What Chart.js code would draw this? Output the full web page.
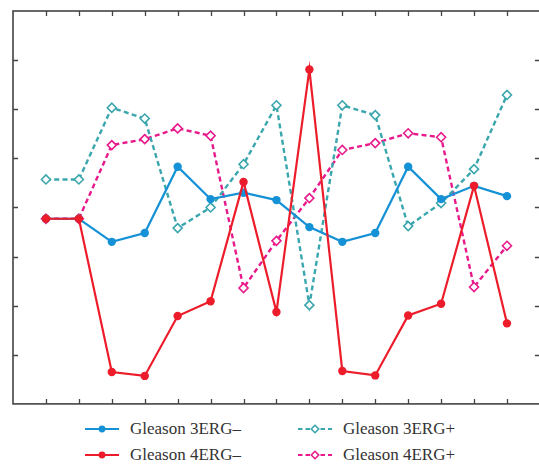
<!DOCTYPE html>
<html>
<head>
<meta charset="utf-8">
<script src="https://cdn.jsdelivr.net/npm/chart.js@4/dist/chart.umd.min.js"></script>
<style>
  html, body { margin: 0; padding: 0; background: #fff; overflow: hidden; width: 539px; height: 464px; }
  #wrap { position: absolute; left: 0; top: 0; width: 546px; height: 410px; }
  .leg { position: absolute; font-family: "Liberation Serif", "DejaVu Serif", serif; font-size: 17px; color: #333; white-space: nowrap; line-height: 20px; }
  .leg svg { position: absolute; left: 0; top: 0; }
  .leg span { position: absolute; top: 0; }
</style>
</head>
<body>
<div id="wrap"><canvas id="c" width="546" height="410"></canvas></div>
<div id="legend"></div>
<script>
// ---- data ----
const categories = [1,2,3,4,5,6,7,8,9,10,11,12,13,14,15];
const gleason3ErgNeg = [3.77,3.77,3.30,3.48,4.83,4.17,4.30,4.15,3.60,3.30,3.48,4.83,4.17,4.44,4.23];
const gleason4ErgNeg = [3.77,3.77,0.65,0.57,1.79,2.09,4.52,1.87,6.81,0.67,0.58,1.80,2.04,4.44,1.64];
const gleason3ErgPos = [4.57,4.57,6.03,5.81,3.58,4.00,4.88,6.08,2.01,6.08,5.88,3.62,4.09,4.78,6.29];
const gleason4ErgPos = [3.77,3.77,5.27,5.39,5.61,5.46,2.36,3.32,4.19,5.17,5.31,5.51,5.43,2.38,3.22];
const yTicks = [1,2,3,4,5,6,7];
const seriesNames = ["Gleason 3ERG–","Gleason 3ERG+","Gleason 4ERG–","Gleason 4ERG+"];

const BLUE = "#1592d6", RED = "#ec1c2a", TEAL = "#3aa6ad", MAG = "#e8198b";
const pts = arr => arr.map((v,i) => ({x: categories[i], y: v}));

const framePlugin = {
  id: 'frame',
  afterDatasetsDraw(chart) {
    const {ctx, chartArea: a, scales: {x, y}} = chart;
    ctx.save();
    ctx.strokeStyle = "#444";
    ctx.lineWidth = 1.6;
    ctx.strokeRect(a.left, a.top, a.right - a.left, a.bottom - a.top);
    ctx.lineWidth = 1.3;
    ctx.beginPath();
    categories.forEach(c => {
      const px = Math.round(x.getPixelForValue(c)) + 0.5;
      ctx.moveTo(px, a.top); ctx.lineTo(px, a.top + 5);
      ctx.moveTo(px, a.bottom); ctx.lineTo(px, a.bottom - 5);
    });
    yTicks.forEach(t => {
      const py = Math.round(y.getPixelForValue(t)) + 0.5;
      ctx.moveTo(a.left, py); ctx.lineTo(a.left + 5, py);
      ctx.moveTo(a.right, py); ctx.lineTo(a.right - 5, py);
    });
    ctx.stroke();
    ctx.restore();
  }
};

new Chart(document.getElementById('c'), {
  type: 'line',
  data: {
    datasets: [
      { label: seriesNames[3], data: pts(gleason4ErgPos), borderColor: MAG, backgroundColor: '#fff',
        borderWidth: 2.4, borderDash: [5,3.3], pointStyle: 'rectRot', pointRadius: 4.5, pointBorderWidth: 1.6,
        pointBorderColor: MAG, pointBackgroundColor: '#fff', order: 4 },
      { label: seriesNames[1], data: pts(gleason3ErgPos), borderColor: TEAL, backgroundColor: '#fff',
        borderWidth: 2.4, borderDash: [5,3.3], pointStyle: 'rectRot', pointRadius: 4.5, pointBorderWidth: 1.6,
        pointBorderColor: TEAL, pointBackgroundColor: '#fff', order: 3 },
      { label: seriesNames[0], data: pts(gleason3ErgNeg), borderColor: BLUE, backgroundColor: BLUE,
        borderWidth: 2.2, pointStyle: 'circle', pointRadius: 4.2, pointBorderWidth: 0,
        pointBackgroundColor: BLUE, order: 2 },
      { label: seriesNames[2], data: pts(gleason4ErgNeg), borderColor: RED, backgroundColor: RED,
        borderWidth: 2.2, pointStyle: 'circle', pointRadius: 4.2, pointBorderWidth: 0,
        pointBackgroundColor: RED, order: 1 }
    ]
  },
  options: {
    responsive: false,
    animation: false,
    layout: { padding: { left: 13, top: 11, right: 4, bottom: 6 } },
    plugins: { legend: { display: false }, tooltip: { enabled: false } },
    elements: { line: { tension: 0 } },
    scales: {
      x: { type: 'linear', min: 0, max: 16, display: false },
      y: { type: 'linear', min: 0, max: 8, display: false }
    }
  },
  plugins: [framePlugin]
});

// HTML legend
const legendItems = [
  { name: seriesNames[0], color: BLUE, dashed: false, left: 85, top: 419 },
  { name: seriesNames[1], color: TEAL, dashed: true, left: 298, top: 419 },
  { name: seriesNames[2], color: RED, dashed: false, left: 85, top: 445 },
  { name: seriesNames[3], color: MAG, dashed: true, left: 298, top: 445 }
];
const lg = document.getElementById('legend');
legendItems.forEach(it => {
  const d = document.createElement('div');
  d.className = 'leg';
  d.style.left = it.left + 'px';
  d.style.top = it.top + 'px';
  const marker = it.dashed
    ? `<path d="M17 6.3 L20.7 10 L17 13.7 L13.3 10 Z" fill="#fff" stroke="${it.color}" stroke-width="1.6"/>`
    : `<circle cx="17" cy="10" r="3.4" fill="${it.color}"/>`;
  d.innerHTML = `<svg width="36" height="20"><line x1="0" y1="10" x2="34" y2="10" stroke="${it.color}" stroke-width="2.2" ${it.dashed ? 'stroke-dasharray="4.5,3"' : ''}/>${marker}</svg><span style="left:45px">${it.name}</span>`;
  lg.appendChild(d);
});
</script>
</body>
</html>
